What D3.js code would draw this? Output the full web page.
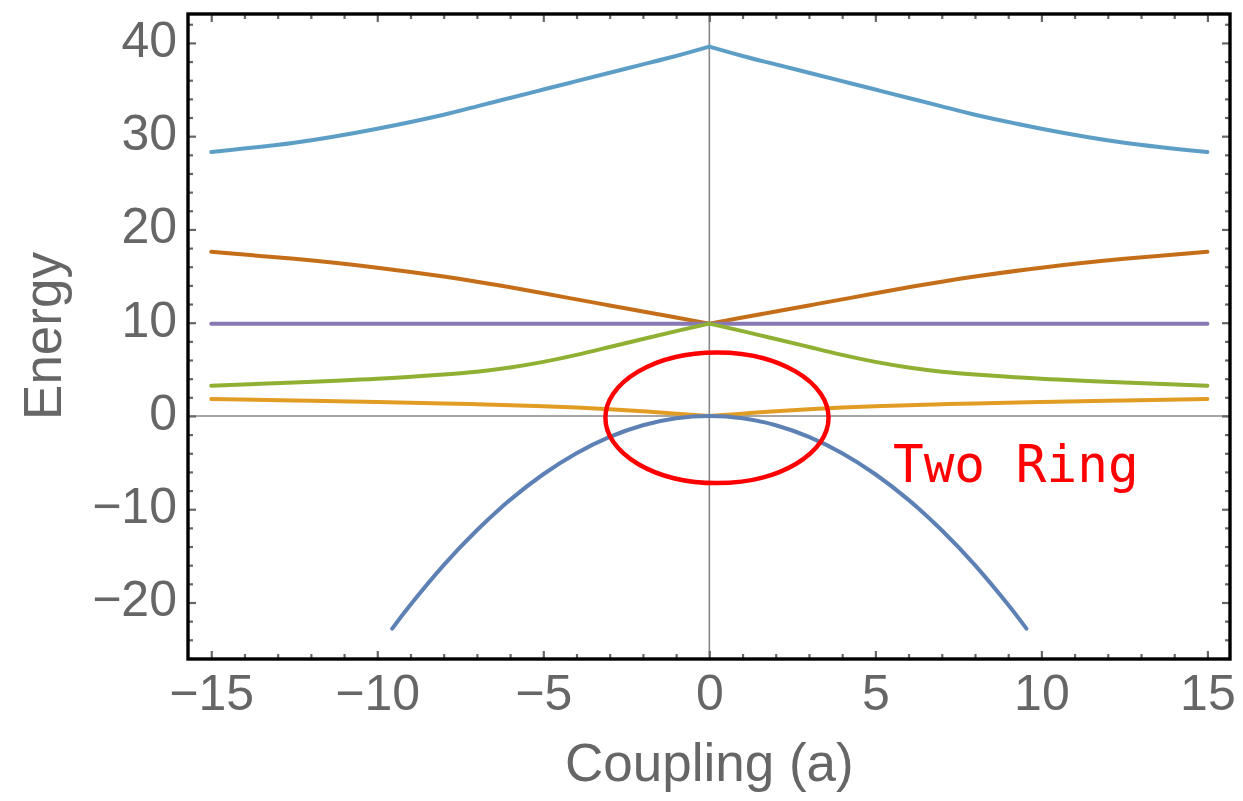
<!DOCTYPE html>
<html>
<head>
<meta charset="utf-8">
<script src="https://cdn.jsdelivr.net/npm/d3@7"></script>
<style>
  body { margin: 0; background: #fff; }
  .tick text { font-family: "Liberation Sans", Arial, sans-serif; font-size: 50px; fill: #666; }
  .tick line { stroke: #666; stroke-width: 2.2px; }
  .axis-title { font-family: "Liberation Sans", Arial, sans-serif; font-size: 53px; fill: #666; }
  .series { fill: none; stroke-width: 4px; stroke-linejoin: round; stroke-linecap: round; }
</style>
</head>
<body>
<div id="chart"></div>
<script>
// Coupling values (x) shared by the five branches
const couplings = [-15, -12.5, -10, -8, -7, -6, -5, -4, -3, -2, -1, 0, 1, 2, 3, 4, 5, 6, 7, 8, 10, 12.5, 15]

// Energy branches
const lightBlue = [28.3, 29.3, 30.8, 32.3, 33.2, 34.1, 35.0, 35.9, 36.8, 37.7, 38.6, 39.6, 38.6, 37.7, 36.8, 35.9, 35.0, 34.1, 33.2, 32.3, 30.8, 29.3, 28.3]
const brown = [17.6, 16.85, 15.9, 14.95, 14.4, 13.8, 13.15, 12.5, 11.85, 11.2, 10.55, 9.9, 10.55, 11.2, 11.85, 12.5, 13.15, 13.8, 14.4, 14.95, 15.9, 16.85, 17.6]
const purple = [9.9, 9.9, 9.9, 9.9, 9.9, 9.9, 9.9, 9.9, 9.9, 9.9, 9.9, 9.9, 9.9, 9.9, 9.9, 9.9, 9.9, 9.9, 9.9, 9.9, 9.9, 9.9, 9.9]
const green = [3.25, 3.58, 3.98, 4.45, 4.75, 5.2, 5.8, 6.55, 7.4, 8.25, 9.1, 9.9, 9.1, 8.25, 7.4, 6.55, 5.8, 5.2, 4.75, 4.45, 3.98, 3.58, 3.25]
const orange = [1.82, 1.66, 1.5, 1.34, 1.26, 1.16, 1.04, 0.9, 0.72, 0.5, 0.25, 0, 0.25, 0.5, 0.72, 0.9, 1.04, 1.16, 1.26, 1.34, 1.5, 1.66, 1.82]

// The lowest branch stops at the bottom of the plot
const blueCouplings = [-9.55, -9, -8, -7, -6, -5, -4, -3, -2, -1, 0, 1, 2, 3, 4, 5, 6, 7, 8, 9, 9.55]
const blue = [-22.8, -20.25, -16, -12.25, -9, -6.25, -4, -2.25, -1, -0.25, 0, -0.25, -1, -2.25, -4, -6.25, -9, -12.25, -16, -20.25, -22.8]

// Tick values
const xMajor = [-15, -10, -5, 0, 5, 10, 15]
const xMinor = d3.range(-15, 16, 1).filter(v => v % 5 !== 0)
const yMajor = [-20, -10, 0, 10, 20, 30, 40]
const yMinor = d3.range(-26, 43, 2).filter(v => v % 10 !== 0)

// Annotation
const noteCenter = [0.23, -0.2]
const noteRadii = [3.36, 7.0]
const noteText = 'Two Ring'
const notePos = [5.53, -7.05]

// Vars for dimensions
const width = 1243
const height = 801
const margin = { top: 14, right: 13, bottom: 142, left: 188 }
const innerWidth = width - margin.left - margin.right
const innerHeight = height - margin.top - margin.bottom

const svg = d3.select('#chart')
  .append('svg')
  .attr('width', width)
  .attr('height', height)

const g = svg.append('g')
  .attr('transform', `translate(${margin.left}, ${margin.top})`)

// Scales
const xScale = d3.scaleLinear().domain([-15.7, 15.68]).range([0, innerWidth])
const yScale = d3.scaleLinear().domain([-26.06, 43.1]).range([innerHeight, 0])

g.append('clipPath').attr('id', 'clip')
  .append('rect').attr('width', innerWidth).attr('height', innerHeight)

// Zero axes
g.append('line')
  .attr('x1', 0).attr('x2', innerWidth)
  .attr('y1', yScale(0)).attr('y2', yScale(0))
  .attr('stroke', '#888').attr('stroke-width', 1.6)
g.append('line')
  .attr('x1', xScale(0)).attr('x2', xScale(0))
  .attr('y1', 0).attr('y2', innerHeight)
  .attr('stroke', '#888').attr('stroke-width', 1.6)

// Lines - split at zero so the cusps stay sharp
const line = d3.line()
  .x(d => xScale(d[0]))
  .y(d => yScale(d[1]))
  .curve(d3.curveNatural)

const plot = g.append('g').attr('clip-path', 'url(#clip)')

function drawSeries(xs, ys, color, split) {
  const pts = xs.map((x, i) => [x, ys[i]])
  const parts = split ? [pts.filter(p => p[0] <= 0), pts.filter(p => p[0] >= 0)] : [pts]
  parts.forEach(part => {
    plot.append('path')
      .datum(part)
      .attr('class', 'series')
      .attr('stroke', color)
      .attr('d', line)
  })
}

drawSeries(couplings, lightBlue, '#5d9ec7', true)
drawSeries(couplings, brown, '#c56e1a', true)
drawSeries(couplings, purple, '#8778b3', false)
drawSeries(couplings, green, '#8fb032', true)
drawSeries(couplings, orange, '#e19c24', true)
drawSeries(blueCouplings, blue, '#5e81b5', false)

// Frame ticks, all pointing inward
function ticks(axis, values, size, labels) {
  return axis.tickValues(values).tickSize(-size).tickFormat(labels ? d3.format('d') : '')
}

function bare(sel) {
  // unlabelled tick sets carry no text
  sel.selectAll('text').remove()
}

g.append('g').attr('transform', `translate(0, ${innerHeight})`)
  .call(ticks(d3.axisBottom(xScale), xMajor, 8, true).tickPadding(15))
g.append('g').attr('transform', `translate(0, ${innerHeight})`)
  .call(ticks(d3.axisBottom(xScale), xMinor, 5, false)).call(bare)
g.append('g').call(ticks(d3.axisTop(xScale), xMajor, 8, false)).call(bare)
g.append('g').call(ticks(d3.axisTop(xScale), xMinor, 5, false)).call(bare)

g.append('g')
  .call(ticks(d3.axisLeft(yScale), yMajor, 8, true).tickPadding(11))
  .selectAll('text').attr('dy', '0.27em')
g.append('g').call(ticks(d3.axisLeft(yScale), yMinor, 5, false)).call(bare)
g.append('g').attr('transform', `translate(${innerWidth}, 0)`)
  .call(ticks(d3.axisRight(yScale), yMajor, 8, false)).call(bare)
g.append('g').attr('transform', `translate(${innerWidth}, 0)`)
  .call(ticks(d3.axisRight(yScale), yMinor, 5, false)).call(bare)

g.selectAll('.domain').remove()

// Frame
g.append('rect')
  .attr('width', innerWidth)
  .attr('height', innerHeight)
  .attr('fill', 'none')
  .attr('stroke', '#000')
  .attr('stroke-width', 3.4)

// Axis titles
svg.append('text')
  .attr('class', 'axis-title')
  .attr('text-anchor', 'middle')
  .attr('x', margin.left + xScale(0))
  .attr('y', 781)
  .text('Coupling (a)')

svg.append('text')
  .attr('class', 'axis-title')
  .attr('text-anchor', 'middle')
  .attr('transform', 'translate(61, 336) rotate(-90)')
  .text('Energy')

// Annotation
g.append('ellipse')
  .attr('cx', xScale(noteCenter[0]))
  .attr('cy', yScale(noteCenter[1]))
  .attr('rx', xScale(noteRadii[0]) - xScale(0))
  .attr('ry', yScale(0) - yScale(noteRadii[1]))
  .attr('fill', 'none')
  .attr('stroke', '#ff0000')
  .attr('stroke-width', 4.5)

g.append('text')
  .attr('x', xScale(notePos[0]))
  .attr('y', yScale(notePos[1]))
  .attr('fill', '#ff0000')
  .style('font-family', '"DejaVu Sans Mono", "Liberation Mono", monospace')
  .style('font-size', '51px')
  .text(noteText)
</script>
</body>
</html>
